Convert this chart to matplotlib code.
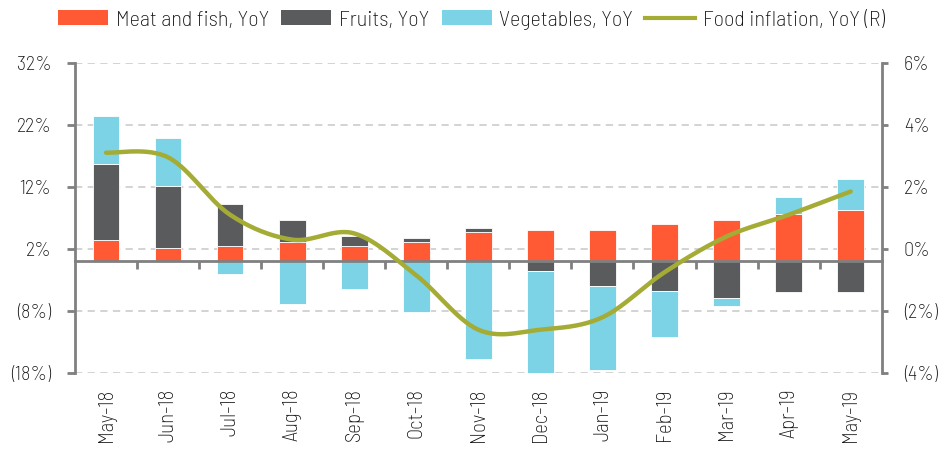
import matplotlib
matplotlib.use("Agg")
import matplotlib.pyplot as plt
import numpy as np
from matplotlib.patches import Patch
from matplotlib.lines import Line2D

plt.rcParams['font.family'] = ['Barlow Semi Condensed', 'Lato', 'DejaVu Sans']
plt.rcParams['font.weight'] = 275

months = ["May-18", "Jun-18", "Jul-18", "Aug-18", "Sep-18", "Oct-18", "Nov-18",
          "Dec-18", "Jan-19", "Feb-19", "Mar-19", "Apr-19", "May-19"]
meat = [3.4, 2.2, 2.5, 3.1, 2.5, 3.1, 4.7, 5.0, 5.0, 6.0, 6.6, 7.6, 8.2]
fruits = [12.2, 9.9, 6.7, 3.6, 1.6, 0.6, 0.6, -1.5, -4.0, -4.7, -5.9, -4.9, -4.9]
vegetables = [7.8, 7.7, -2.1, -6.8, -4.4, -8.2, -15.7, -16.4, -13.5, -7.4, -1.3, 2.8, 5.1]
food_infl = [3.1, 2.95, 1.1, 0.3, 0.5, -0.85, -2.6, -2.6, -2.2, -0.75, 0.4, 1.1, 1.85]

left_ticks = [-18, -8, 2, 12, 22, 32]
left_labels = ["(18%)", "(8%)", "2%", "12%", "22%", "32%"]
right_ticks = [-4, -2, 0, 2, 4, 6]
right_labels = ["(4%)", "(2%)", "0%", "2%", "4%", "6%"]

c_meat = "#FF5A33"
c_fruit = "#5A5B5D"
c_veg = "#7DD3E6"
c_line = "#A5AC35"
c_axis = "#808080"
c_text = "#111111"
fs_tick = 14.5
fs_x = 15
fs_leg = 16

fig = plt.figure(figsize=(9.46, 4.57), dpi=100)
ax = fig.add_axes([75/946, 1-373.2/457, 806.7/946, 310.6/457])

x = np.arange(len(months))
w = 0.43
pos_base = np.zeros(len(months))
neg_base = np.zeros(len(months))
for vals, col in [(meat, c_meat), (fruits, c_fruit), (vegetables, c_veg)]:
    v = np.array(vals, dtype=float)
    bottoms = np.where(v >= 0, pos_base, neg_base)
    ax.bar(x, v, w, bottom=bottoms, color=col, edgecolor='white', linewidth=0.6, zorder=3)
    pos_base = pos_base + np.where(v >= 0, v, 0)
    neg_base = neg_base + np.where(v < 0, v, 0)

ax.set_xlim(-0.5, len(months) - 0.5)
ax.set_ylim(-18, 32)
ax.set_yticks(left_ticks)
ax.set_yticklabels(left_labels, fontsize=fs_tick, color=c_text)
ax.yaxis.grid(True, linestyle=(0, (4, 3)), color='#D0D0D0', linewidth=1.3, zorder=0)
ax.set_axisbelow(True)

for s in ['top', 'right']:
    ax.spines[s].set_visible(False)
ax.spines['left'].set_color(c_axis)
ax.spines['left'].set_linewidth(2)
ax.spines['bottom'].set_position(('data', 0))
ax.spines['bottom'].set_color(c_axis)
ax.spines['bottom'].set_linewidth(2)
ax.spines['bottom'].set_zorder(5)
ax.tick_params(axis='y', direction='out', length=6, width=2, color=c_axis, pad=11)
ax.set_xticks(np.arange(0.5, len(months) - 0.5, 1.0))
ax.set_xticklabels([])
ax.tick_params(axis='x', direction='out', length=6, width=2, color=c_axis)

sec = ax.secondary_xaxis('bottom')
sec.set_xticks(x)
sec.set_xticklabels(months, rotation=90, fontsize=fs_x, color=c_text)
sec.tick_params(length=0, pad=11)
sec.spines['bottom'].set_visible(False)

ax2 = ax.twinx()
ax2.set_ylim(-4, 6)
ax2.set_yticks(right_ticks)
ax2.set_yticklabels(right_labels, fontsize=fs_tick, color=c_text)
for s in ['top', 'left', 'bottom']:
    ax2.spines[s].set_visible(False)
ax2.spines['right'].set_color(c_axis)
ax2.spines['right'].set_linewidth(2)
ax2.tick_params(axis='y', direction='out', length=4, width=2, color=c_axis, pad=12)

# Catmull-Rom smoothing of the line (Excel-style smoothed line)
def smooth(xs, ys, n=30):
    P = np.column_stack([xs, ys]).astype(float)
    out = []
    for i in range(len(P) - 1):
        p0 = P[i - 1] if i > 0 else P[i]
        p1, p2 = P[i], P[i + 1]
        p3 = P[i + 2] if i + 2 < len(P) else P[i + 1]
        t = np.linspace(0, 1, n, endpoint=(i == len(P) - 2))[:, None]
        pts = 0.5 * ((2 * p1) + (-p0 + p2) * t + (2 * p0 - 5 * p1 + 4 * p2 - p3) * t**2
                     + (-p0 + 3 * p1 - 3 * p2 + p3) * t**3)
        out.append(pts)
    out = np.vstack(out)
    return out[:, 0], out[:, 1]

sx, sy = smooth(x, food_infl)
ax2.plot(sx, sy, color=c_line, linewidth=3.2, solid_capstyle='round', zorder=6)

handles = [Patch(facecolor=c_meat), Patch(facecolor=c_fruit), Patch(facecolor=c_veg),
           Line2D([0], [0], color=c_line, linewidth=3)]
labels = ["Meat and fish, YoY", "Fruits, YoY", "Vegetables, YoY", "Food inflation, YoY (R)"]
leg = fig.legend(handles, labels, loc='center left', bbox_to_anchor=(58/946, 1-20/457), ncol=4,
                 frameon=False, fontsize=fs_leg, handlelength=2.25, handleheight=0.63,
                 handletextpad=0.35, columnspacing=0.55, borderaxespad=0, borderpad=0)
for t in leg.get_texts():
    t.set_color(c_text)

fig.savefig("out.png", dpi=100)
